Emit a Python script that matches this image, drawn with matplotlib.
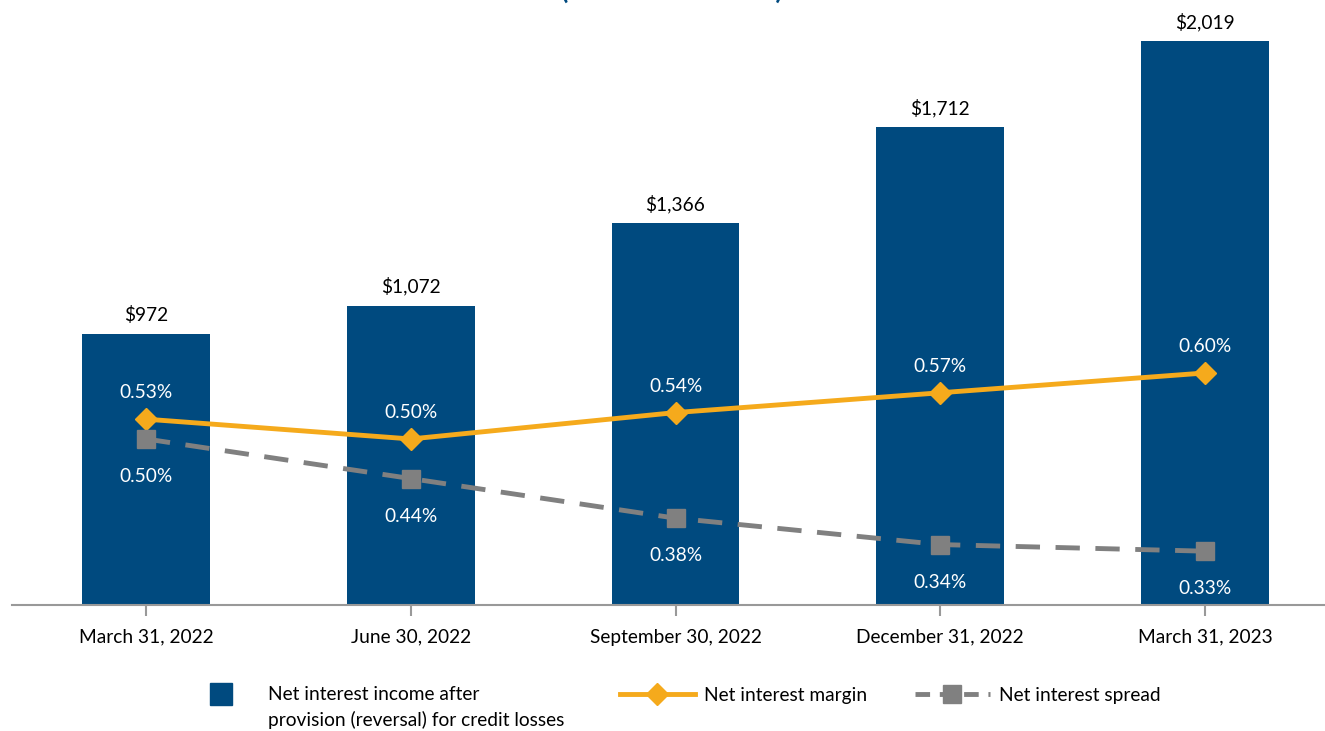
import numpy as np
import matplotlib.pyplot as plt
from matplotlib.lines import Line2D

plt.rcParams['font.family'] = ['Lato', 'DejaVu Sans']

quarters = ["March 31, 2022", "June 30, 2022", "September 30, 2022",
            "December 31, 2022", "March 31, 2023"]
net_income = [972, 1072, 1366, 1712, 2019]          # $ millions
net_margin = [0.53, 0.50, 0.54, 0.57, 0.60]         # %
net_spread = [0.50, 0.44, 0.38, 0.34, 0.33]         # %

navy = "#004A7F"
gold = "#F5AA1C"
grey = "#808080"
fs = 13.8

fig = plt.figure(figsize=(13.25, 7.31), dpi=100)
ax = fig.add_axes([12 / 1325, 0.1724, 1 - 12 / 1325, 0.8023])
x = np.arange(len(quarters))

ax.bar(x, net_income, width=0.483, color=navy, zorder=1)
for xi, v in zip(x, net_income):
    ax.annotate(f"${v:,}", (xi, v), xytext=(0, 7), textcoords="offset points",
                ha="center", va="bottom", fontsize=fs)

ax.set_xlim(-0.506, 4.453)
ax.set_ylim(0, 2100)
ax.set_yticks([])
for s in ("top", "left", "right"):
    ax.spines[s].set_visible(False)
ax.spines["bottom"].set_color("#999999")
ax.spines["bottom"].set_linewidth(1.5)
ax.set_xticks(x)
ax.set_xticklabels(quarters, fontsize=fs)
ax.tick_params(axis="x", length=8, width=1.5, color="#999999", pad=9)

# rates on a secondary scale
ax2 = ax.twinx()
ax2.set_ylim(0.2485, 1.137)
ax2.axis("off")
ax2.plot(x, net_margin, color=gold, lw=3.5, marker="D", ms=11, zorder=3)
ax2.plot(x, net_spread, color=grey, lw=3.5, ls=(0, (5, 3.2)), marker="s",
         ms=13, zorder=3)
for xi, m, s in zip(x, net_margin, net_spread):
    ax2.annotate(f"{m:.2f}%", (xi, m), xytext=(0, 13), textcoords="offset points",
                 ha="center", va="bottom", fontsize=fs, color="white")
    ax2.annotate(f"{s:.2f}%", (xi, s), xytext=(0, -21), textcoords="offset points",
                 ha="center", va="top", fontsize=fs, color="white")

fig.text(0.507, 1.002, "(Dollars in millions)", ha="center", va="baseline",
         fontsize=19, fontweight="bold", color=navy)

# legend, one entry at a time so each sits where it should
entries = [
    (Line2D([], [], ls="none", marker="s", ms=16, color=navy),
     "Net interest income after", 184),
    (Line2D([], [], color=gold, lw=3.5, marker="D", ms=11),
     "Net interest margin", 620),
    (Line2D([], [], color=grey, lw=3.5, ls=(0, (3, 2)), marker="s", ms=13),
     "Net interest spread", 915),
]
ly = 1 - 695 / 731
for handle, label, px in entries:
    fig.legend([handle], [label], loc="center left",
               bbox_to_anchor=(px / 1325, ly), frameon=False, fontsize=fs,
               handlelength=3.9, handletextpad=0.5, borderpad=0,
               borderaxespad=0)
fig.text(268 / 1325, 1 - 720 / 731, "provision (reversal) for credit losses",
         ha="left", va="center", fontsize=fs)

fig.savefig("out.png", dpi=100)
